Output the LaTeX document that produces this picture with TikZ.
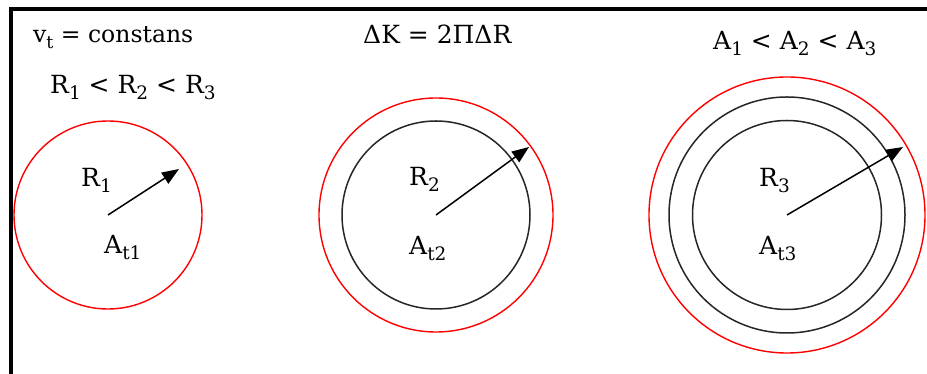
\documentclass[tikz,border=0pt]{standalone}
\usepackage{fontspec}
\setmainfont{DejaVu Serif}
\usetikzlibrary{arrows.meta}
\newcommand{\lsub}[1]{\raisebox{-0.22em}{\scalebox{0.74}{#1}}}
\begin{document}
\begin{tikzpicture}[x=1pt,y=1pt,
  redring/.style={circle, draw=red, line width=1.4pt, inner sep=0pt},
  blackring/.style={circle, draw=black!85, line width=1.5pt, inner sep=0pt},
  radiusarrow/.style={line width=1.5pt, -{Triangle[length=17pt,width=13pt]}},
  txt/.style={anchor=base west, inner sep=0pt, font=\fontsize{25}{28}\selectfont},
  lbl/.style={anchor=base west, inner sep=0pt, font=\fontsize{25}{28}\selectfont},
  framestyle/.style={line width=4pt}]
\useasboundingbox (0,0) rectangle (927,374);
% frame
\coordinate (tr) at (927,364.5);
\coordinate (tl) at (11,364.5);
\coordinate (bl) at (11,0);
\draw[framestyle] (tr) -- (tl) -- (bl);
% top texts
\node[txt, font=\fontsize{23.5}{28}\selectfont] (vt) at (33,331) {v\lsub{t} = constans};
\node[txt] (rr) at (50,280) {R\lsub{1} < R\lsub{2} < R\lsub{3}};
\node[txt] (dk) at (363,330) {ΔK = 2ΠΔR};
\node[txt] (aa) at (713,324) {A\lsub{1} < A\lsub{2} < A\lsub{3}};
% circle 1
\coordinate (o1) at (108,159);
\node[redring, minimum size=188pt] (c1) at (o1) {};
\coordinate (e1) at (179,205);
\draw[radiusarrow] (o1) -- (e1);
\node[lbl] (r1) at (81,187) {R\lsub{1}};
\node[lbl] (a1) at (104,120) {A\lsub{t1}};
% circle 2
\coordinate (o2) at (436,159);
\node[redring, minimum size=234pt] (c2r) at (o2) {};
\node[blackring, minimum size=188pt] (c2b) at (o2) {};
\coordinate (e2) at (529,227);
\draw[radiusarrow] (o2) -- (e2);
\node[lbl] (r2) at (409,188) {R\lsub{2}};
\node[lbl] (a2) at (409,119) {A\lsub{t2}};
% circle 3
\coordinate (o3) at (787,159);
\node[redring, minimum size=276pt] (c3r) at (o3) {};
\node[blackring, minimum size=236pt] (c3m) at (o3) {};
\node[blackring, minimum size=189pt] (c3b) at (o3) {};
\coordinate (e3) at (903,227);
\draw[radiusarrow] (o3) -- (e3);
\node[lbl] (r3) at (759,187) {R\lsub{3}};
\node[lbl] (a3) at (759,119) {A\lsub{t3}};
\end{tikzpicture}
\end{document}
